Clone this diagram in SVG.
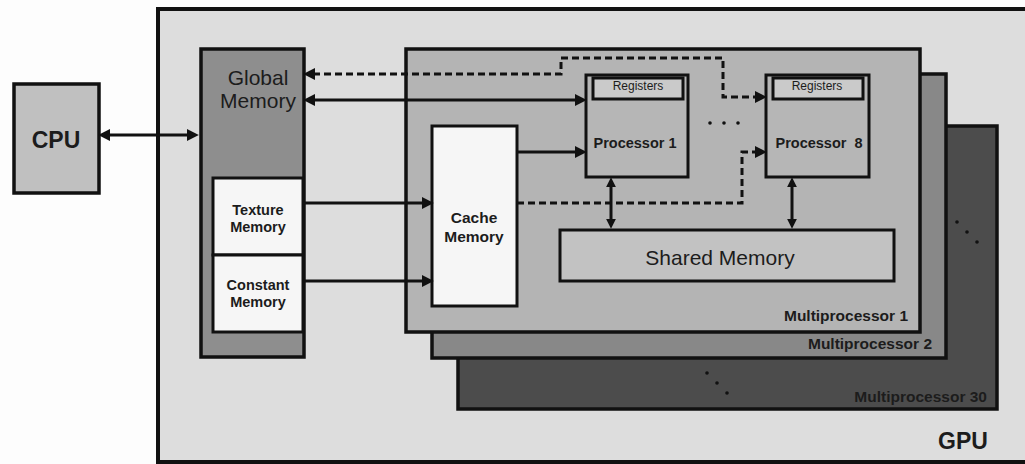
<svg xmlns="http://www.w3.org/2000/svg" width="1025" height="464" viewBox="0 0 1025 464">
<style>
.box{stroke:#111;stroke-width:3.5}
.thin{stroke:#111;stroke-width:3}
.lbl{font-family:"Liberation Sans",Arial,sans-serif;fill:#1c1c1c}
.b{font-weight:bold}
.mid{text-anchor:middle}
.end{text-anchor:end}
.con{fill:none;stroke:#111;stroke-width:3}
.dash{stroke-dasharray:7 4}
.dot{fill:#111}
</style>
<defs>
<marker id="ah" markerUnits="userSpaceOnUse" markerWidth="12" markerHeight="12" viewBox="0 0 11 11" refX="2" refY="5.5" orient="auto-start-reverse">
<path d="M0,0 L11,5.5 L0,11 z" fill="#111"/>
</marker>
<marker id="ahs" markerUnits="userSpaceOnUse" markerWidth="10" markerHeight="10" viewBox="0 0 9 9" refX="2" refY="4.5" orient="auto-start-reverse">
<path d="M0,0 L9,4.5 L0,9 z" fill="#111"/>
</marker>
</defs>
<rect width="1025" height="464" fill="#fdfdfd"/>

<g id="cpu">
<rect class="box" x="14" y="84" width="85" height="109" fill="#c0c0c0"/>
<text class="lbl b mid" x="56" y="148" font-size="23">CPU</text>
</g>

<g id="gpu">
<rect x="158" y="9" width="880" height="453" fill="#dddddd" stroke="#111" stroke-width="4"/>
<text class="lbl b" x="938" y="449" font-size="23">GPU</text>
</g>

<g id="multiprocessor30">
<rect class="box" x="458" y="126" width="539" height="283" fill="#4c4c4c"/>
<text class="lbl b end" x="987" y="402" font-size="15.5">Multiprocessor 30</text>
<circle class="dot" cx="707" cy="373" r="1.8"/>
<circle class="dot" cx="717" cy="383" r="1.8"/>
<circle class="dot" cx="727" cy="393" r="1.8"/>
<circle class="dot" cx="957" cy="222" r="1.8"/>
<circle class="dot" cx="967" cy="232" r="1.8"/>
<circle class="dot" cx="977" cy="242" r="1.8"/>
</g>

<g id="multiprocessor2">
<rect class="box" x="432" y="74" width="514" height="284" fill="#888888"/>
<text class="lbl b end" x="932" y="349" font-size="15.5">Multiprocessor 2</text>
</g>

<g id="multiprocessor1">
<rect class="box" x="406" y="49" width="514" height="283" fill="#b4b4b4"/>
<text class="lbl b end" x="908" y="321" font-size="15.5">Multiprocessor 1</text>
<circle class="dot" cx="710" cy="123" r="1.8"/>
<circle class="dot" cx="724" cy="123" r="1.8"/>
<circle class="dot" cx="738" cy="123" r="1.8"/>
</g>

<g id="global-memory">
<rect class="box" x="201" y="49" width="103" height="308" fill="#8e8e8e"/>
<text class="lbl mid" x="258" y="85" font-size="21">Global</text>
<text class="lbl mid" x="258" y="108" font-size="21">Memory</text>
</g>

<g id="texture-memory">
<rect class="thin" x="213" y="178" width="90" height="77" fill="#f6f6f6"/>
<text class="lbl b mid" x="258" y="215" font-size="14.5">Texture</text>
<text class="lbl b mid" x="258" y="232" font-size="14.5">Memory</text>
</g>

<g id="constant-memory">
<rect class="thin" x="213" y="255" width="90" height="77" fill="#f6f6f6"/>
<text class="lbl b mid" x="258" y="290" font-size="14.5">Constant</text>
<text class="lbl b mid" x="258" y="307" font-size="14.5">Memory</text>
</g>

<g id="cache-memory">
<rect class="thin" x="432" y="126" width="85" height="180" fill="#f6f6f6"/>
<text class="lbl b mid" x="474" y="223" font-size="15.5">Cache</text>
<text class="lbl b mid" x="474" y="242" font-size="15.5">Memory</text>
</g>

<g id="processor1">
<rect class="thin" x="586" y="75" width="102" height="102" fill="#b6b6b6"/>
<rect class="thin" x="593" y="78" width="90" height="21" fill="#cacaca"/>
<text class="lbl mid" x="638" y="90" font-size="12" fill="#333">Registers</text>
<text class="lbl b mid" x="635" y="148" font-size="14.5">Processor 1</text>
</g>

<g id="processor8">
<rect class="thin" x="766" y="75" width="103" height="102" fill="#b6b6b6"/>
<rect class="thin" x="773" y="78" width="90" height="21" fill="#cacaca"/>
<text class="lbl mid" x="817" y="90" font-size="12" fill="#333">Registers</text>
<text class="lbl b mid" x="819" y="148" font-size="14.5" xml:space="preserve">Processor  8</text>
</g>

<g id="shared-memory">
<rect class="thin" x="560" y="230" width="334" height="51" fill="#c2c2c2"/>
<text class="lbl mid" x="720" y="265" font-size="21">Shared Memory</text>
</g>

<g id="connectors">
<path class="con" d="M108,135 H189" marker-start="url(#ah)" marker-end="url(#ah)"/>
<path class="con" d="M313,100 H577" marker-start="url(#ah)" marker-end="url(#ah)"/>
<path class="con dash" d="M313,74 H561 V58 H723 V97 H757" marker-start="url(#ah)" marker-end="url(#ah)"/>
<path class="con" d="M517,152 H577" marker-end="url(#ah)"/>
<path class="con dash" d="M517,203 H742 V152 H757" marker-end="url(#ah)"/>
<path class="con" d="M303,203 H424" marker-end="url(#ah)"/>
<path class="con" d="M303,281 H424" marker-end="url(#ah)"/>
<path class="con" d="M611,185 V221" marker-start="url(#ahs)" marker-end="url(#ahs)"/>
<path class="con" d="M792,185 V221" marker-start="url(#ahs)" marker-end="url(#ahs)"/>
</g>
</svg>
